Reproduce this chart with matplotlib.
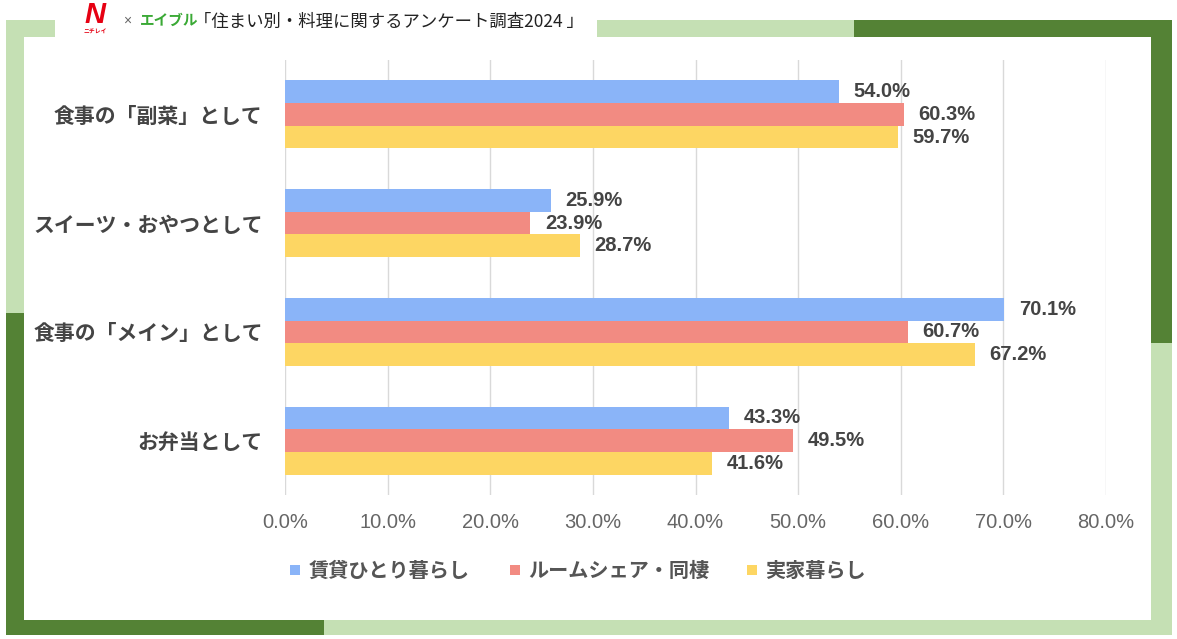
import matplotlib
matplotlib.use("Agg")
import matplotlib.pyplot as plt
from matplotlib.patches import Rectangle
import numpy as np

plt.rcParams['font.family'] = ['Noto Sans CJK JP', 'DejaVu Sans']

categories = ["食事の「副菜」として", "スイーツ・おやつとして", "食事の「メイン」として", "お弁当として"]
series_names = ["賃貸ひとり暮らし", "ルームシェア・同棲", "実家暮らし"]
values_rent = [54.0, 25.9, 70.1, 43.3]
values_share = [60.3, 23.9, 60.7, 49.5]
values_home = [59.7, 28.7, 67.2, 41.6]
xticks = [0, 10, 20, 30, 40, 50, 60, 70, 80]
title = "「住まい別・料理に関するアンケート調査2024 」"

colors = ["#8AB4F8", "#F28B82", "#FDD663"]
series = [values_rent, values_share, values_home]

W, H = 1177, 639
fig = plt.figure(figsize=(W / 100, H / 100), dpi=100)
fig.patch.set_facecolor("white")

def rect(x0, y0, x1, y1, color):
    fig.patches.append(Rectangle((x0 / W, 1 - y1 / H), (x1 - x0) / W, (y1 - y0) / H,
                                 transform=fig.transFigure, facecolor=color,
                                 edgecolor="none", zorder=0))

DG = "#548235"
LG = "#C5E0B4"
rect(6, 20, 55, 37, LG)
rect(6, 20, 24, 313, LG)
rect(6, 313, 24, 635, DG)
rect(6, 620, 324, 635, DG)
rect(324, 620, 1172, 635, LG)
rect(1151, 343, 1172, 635, LG)
rect(1151, 20, 1172, 343, DG)
rect(597, 20, 854, 37, LG)
rect(854, 20, 1172, 37, DG)

# header logos and title
fig.text(95 / W, 1 - 29 / H, "N", fontsize=21, fontweight="bold", style="italic",
         color="#E60012", ha="center", va="bottom", family=["Liberation Sans"])
fig.text(95 / W, 1 - 29.5 / H, "ニチレイ", fontsize=4.2, fontweight="bold",
         color="#E60012", ha="center", va="top")
fig.text(127 / W, 1 - 21 / H, "×", fontsize=10, color="#666666", ha="center", va="center",
         family=["Liberation Sans"])
fig.text(169 / W, 1 - 20 / H, "エイブル", fontsize=10.5, fontweight="bold", style="italic",
         color="#3AA935", ha="center", va="center")
fig.text(194 / W, 1 - 22 / H, title, fontsize=12.5, color="#222222", ha="left", va="center")

# axes
ax_left, ax_right = 285, 1106
ax_top, ax_bot = 60, 495
ax = fig.add_axes([ax_left / W, 1 - ax_bot / H, (ax_right - ax_left) / W, (ax_bot - ax_top) / H])
ax.set_facecolor("none")

y = np.arange(len(categories))
bh = 0.209
offsets = [-bh, 0, bh]
for vals, col, off in zip(series, colors, offsets):
    ax.barh(y + off, vals, height=bh, color=col, zorder=2)
    for yi, v in zip(y, vals):
        ax.annotate(f"{v:.1f}%", (v, yi + off), xytext=(10.5, 0), textcoords="offset points",
                    ha="left", va="center", fontsize=14.5, fontweight="bold", color="#444444",
                    family=["Liberation Sans", "DejaVu Sans"], zorder=3)

ax.set_xlim(0, 80)
ax.set_ylim(len(categories) - 0.5, -0.5)
ax.set_xticks(xticks)
ax.set_xticklabels([f"{t:.1f}%" for t in xticks], family=["Liberation Sans", "DejaVu Sans"],
                   fontsize=14.5, color="#666666")
ax.set_yticks(y)
ax.set_yticklabels(categories, fontsize=15, fontweight="bold", color="#444444")
ax.tick_params(axis="x", length=0, pad=13)
ax.tick_params(axis="y", length=0, pad=16)
ax.grid(axis="x", color="#D9D9D9", linewidth=1, zorder=0)
ax.set_axisbelow(True)
for s in ax.spines.values():
    s.set_visible(False)

# legend
leg_y = 570
leg_items = [(290, 309), (510, 528), (747, 765)]
for (sx, tx), name, col in zip(leg_items, series_names, colors):
    rect(sx, leg_y - 5, sx + 10, leg_y + 5, col)
    fig.text(tx / W, 1 - leg_y / H, name, fontsize=14.5, fontweight="bold", color="#555555",
             ha="left", va="center")

fig.savefig("out.png", dpi=100, facecolor="white")
